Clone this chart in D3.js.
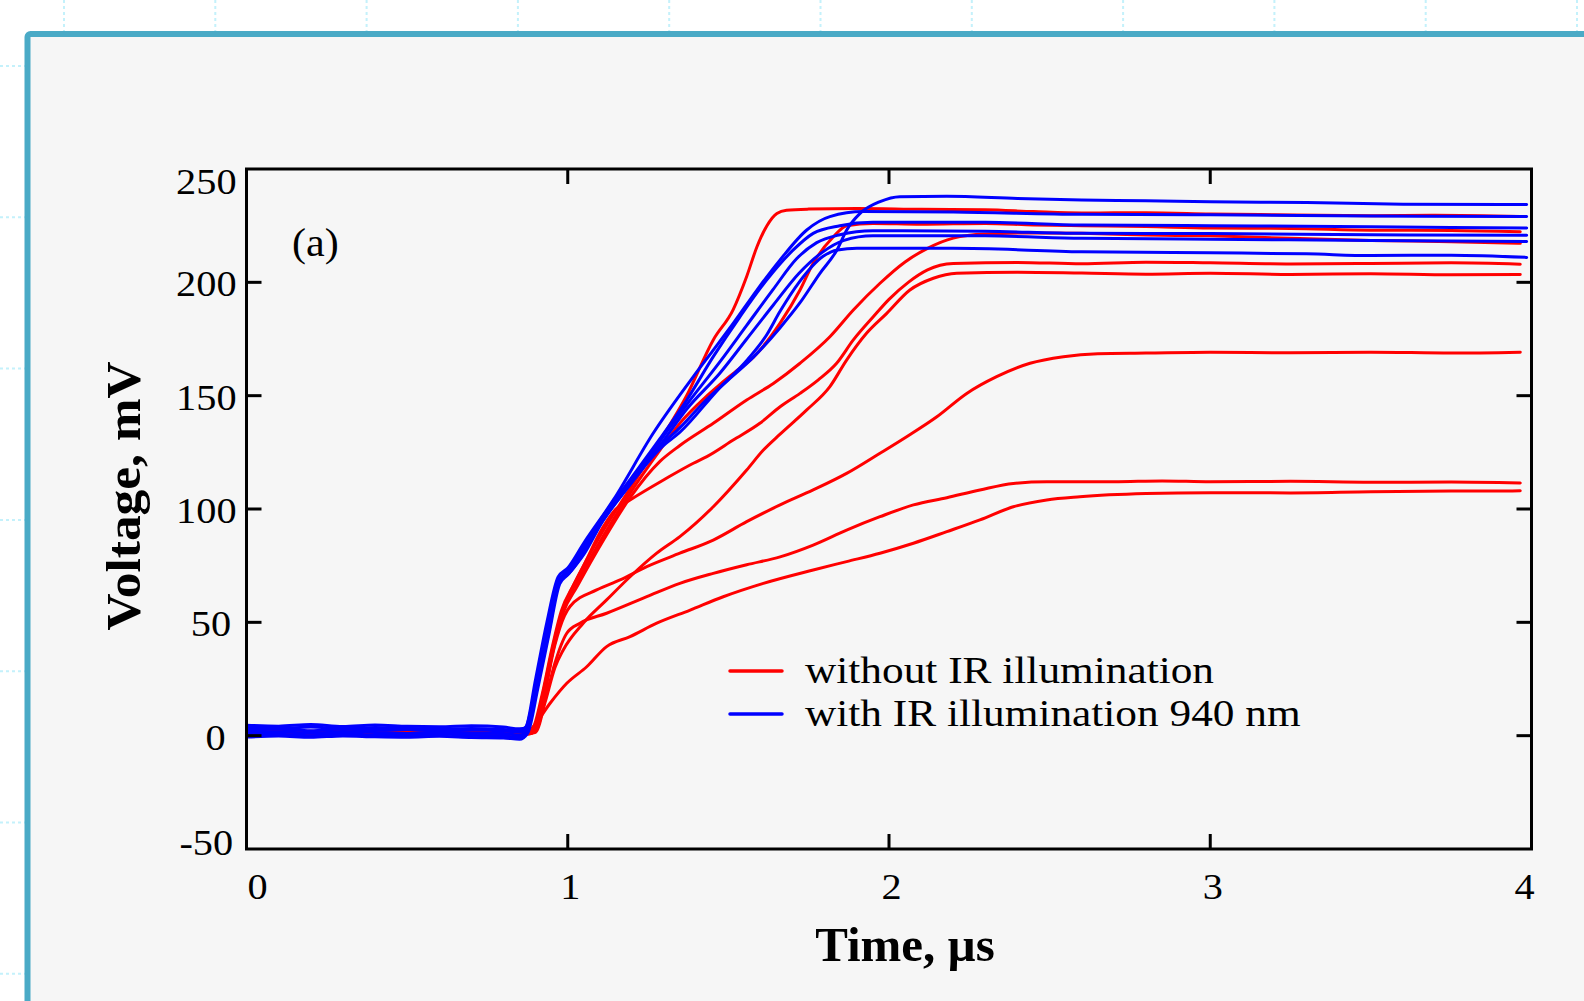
<!DOCTYPE html>
<html><head><meta charset="utf-8">
<script src="https://cdn.jsdelivr.net/npm/d3@7"></script>
<style>body{margin:0;background:#fff;overflow:hidden}svg{display:block}</style>
</head><body>
<svg id="chart" width="1584" height="1001"></svg>
<script>
// ---------- data ----------
const xTicks = [0, 1, 2, 3, 4];
const yTicks = [-50, 0, 50, 100, 150, 200, 250];
const xTitle = "Time, \u00b5s";
const yTitle = "Voltage, mV";
const panelLabel = "(a)";
const seriesNames = ["without IR illumination", "with IR illumination 940 nm"];
const seriesColors = ["#ff0000", "#0000ff"];

// without IR illumination (red)
const red1 = [[0,1.5],[0.2,1.8],[0.4,1.2],[0.6,2.2],[0.8,1.6],[0.86,1],[0.89,3],[0.92,18],[0.95,38],[0.98,55],[1.02,67],[1.1,88],[1.194,109],[1.287,130],[1.37,150],[1.453,174.6],[1.515,188],[1.557,202.6],[1.589,215.7],[1.62,225],[1.651,230.4],[1.681,231.8],[1.75,232.3],[1.9,232.6],[2.1,232.2],[2.3,232],[2.45,231.2],[2.6,230.6],[2.8,230.7],[3.0,230.2],[3.2,229.8],[3.5,229.4],[3.7,229.6],[3.965,229]];
const red2 = [[0,1.0],[0.2,1.4],[0.4,0.9],[0.6,1.6],[0.8,1.2],[0.86,0.5],[0.895,3],[0.925,20],[0.955,40],[0.985,56],[1.03,68],[1.11,88],[1.194,107],[1.287,126],[1.35,138],[1.434,150],[1.474,155],[1.526,161],[1.578,167],[1.661,182],[1.723,196.6],[1.764,208.4],[1.827,220.1],[1.868,225],[1.95,226],[2.1,225.6],[2.3,226],[2.45,225.3],[2.6,225],[2.8,224.6],[3.0,224],[3.25,223.8],[3.5,223],[3.75,222.9],[3.965,222.3]];
const red3 = [[0,2.0],[0.2,1.6],[0.4,2.3],[0.6,1.8],[0.8,2.4],[0.86,1.2],[0.895,2],[0.925,18],[0.955,38],[0.985,54],[1.03,66],[1.11,86],[1.194,105],[1.287,121],[1.349,128],[1.453,137.8],[1.557,148.1],[1.64,155.4],[1.723,164.3],[1.816,176],[1.889,187.8],[1.972,199.6],[2.05,209],[2.12,215],[2.2,219.5],[2.3,221.3],[2.45,221.8],[2.6,221.6],[2.8,220.9],[3.0,220.5],[3.25,219.4],[3.5,218.5],[3.75,217.9],[3.965,217.2]];
const red4 = [[0,0.8],[0.2,1.2],[0.4,0.7],[0.6,1.3],[0.8,0.9],[0.87,0.6],[0.9,2],[0.93,20],[0.96,42],[0.99,57],[1.05,75],[1.11,92],[1.15,100],[1.194,104],[1.298,112.8],[1.391,120.2],[1.433,123.1],[1.515,130.4],[1.598,137.8],[1.661,145.1],[1.723,151],[1.78,157],[1.837,164.3],[1.889,174.6],[1.951,184.8],[2.0,192.5],[2.06,200],[2.12,205.5],[2.2,208.3],[2.4,208.8],[2.6,208.2],[2.8,208.9],[3.0,208.6],[3.25,208.1],[3.5,208.3],[3.75,208.6],[3.965,208]];
const red5 = [[0,1.2],[0.2,0.9],[0.4,1.5],[0.6,1.0],[0.8,1.4],[0.87,0.8],[0.9,1.5],[0.93,15],[0.96,30],[0.986,37.8],[1.048,49.6],[1.121,59.9],[1.194,70.1],[1.277,80.5],[1.349,87.8],[1.453,101],[1.557,117.2],[1.609,126],[1.661,133],[1.744,143.7],[1.816,154],[1.868,165.7],[1.93,177.5],[1.993,186.3],[2.065,196.6],[2.138,201.8],[2.211,204],[2.4,204.5],[2.6,204.1],[2.8,203.6],[3.0,204],[3.25,203.5],[3.5,203.8],[3.75,203.3],[3.965,203.5]];
const red6 = [[0,1.6],[0.2,2.0],[0.4,1.4],[0.6,2.5],[0.8,1.9],[0.87,1.2],[0.9,2],[0.93,20],[0.96,40],[0.99,53],[1.007,57],[1.09,64.3],[1.163,68.7],[1.246,74.6],[1.349,80.5],[1.453,86.3],[1.557,94.4],[1.661,101.8],[1.764,108.4],[1.868,115.7],[1.972,124.6],[2.055,131.9],[2.149,140.7],[2.242,151],[2.335,158.4],[2.439,164.3],[2.543,167.2],[2.65,168.5],[2.8,168.8],[3.0,169.2],[3.25,168.9],[3.5,169.2],[3.75,168.8],[3.965,169.2]];
const red7 = [[0,0.6],[0.2,1.0],[0.4,0.5],[0.6,1.1],[0.8,0.7],[0.87,0.5],[0.9,2],[0.93,16],[0.96,32],[0.997,45.2],[1.038,49.6],[1.121,54],[1.246,61.3],[1.349,67.2],[1.453,71.6],[1.557,75.4],[1.661,78.9],[1.764,84.1],[1.868,90.7],[1.972,96.6],[2.076,101.8],[2.18,105],[2.283,108.4],[2.387,111.3],[2.491,112],[2.7,112],[2.85,112.4],[3.0,112],[3.25,112.2],[3.5,111.8],[3.75,111.9],[3.965,111.5]];
const red8 = [[0,1.3],[0.2,1.7],[0.4,1.1],[0.6,1.9],[0.8,1.5],[0.87,1],[0.893,4],[0.945,14.3],[0.997,23.1],[1.059,30.4],[1.121,39.3],[1.194,43.7],[1.277,49.6],[1.381,55.4],[1.484,61.3],[1.609,67.2],[1.764,73.1],[1.868,76.8],[1.972,80.5],[2.076,84.9],[2.18,90],[2.283,95.2],[2.387,101],[2.491,104],[2.594,105.4],[2.8,106.8],[3.0,107.2],[3.25,107.1],[3.5,107.6],[3.75,107.9],[3.965,108]];

// with IR illumination 940 nm (blue)
const blue1 = [[0,4.6],[0.1,4.2],[0.2,4.9],[0.3,4.0],[0.4,4.7],[0.5,4.1],[0.6,3.9],[0.7,4.4],[0.8,3.8],[0.85,3.0],[0.872,3.5],[0.905,24],[0.94,47],[0.97,66],[1.0,72],[1.05,82],[1.11,96],[1.19,111],[1.29,128],[1.35,136],[1.43,148],[1.5,157],[1.578,167],[1.661,180],[1.723,191],[1.785,204],[1.838,214.3],[1.868,223],[1.91,230.4],[1.972,235.6],[2.034,237.8],[2.18,238],[2.4,237],[2.6,236.3],[2.8,236],[3.0,235.5],[3.3,235.2],[3.6,234.5],[3.985,234.3]];
const blue2 = [[0,2.5],[0.1,2.8],[0.2,2.2],[0.3,2.9],[0.4,2.4],[0.5,2.7],[0.6,2.0],[0.7,2.5],[0.8,2.1],[0.85,1.5],[0.868,3],[0.9,25],[0.935,50],[0.97,70],[1.0,74],[1.05,85],[1.142,104],[1.266,133.4],[1.391,158.4],[1.453,170.1],[1.515,181.9],[1.589,196.6],[1.661,209.9],[1.744,223.1],[1.816,229],[1.92,231.2],[2.2,231],[2.6,230],[3.0,229.8],[3.5,229.3],[3.985,229]];
const blue3 = [[0,1.3],[0.1,1.7],[0.2,1.1],[0.3,1.8],[0.4,1.4],[0.5,1.0],[0.6,1.6],[0.7,1.2],[0.8,1.0],[0.85,0.2],[0.87,2],[0.902,23],[0.938,46],[0.97,68],[1.0,73],[1.11,97],[1.194,113],[1.287,131],[1.37,148],[1.453,167.2],[1.536,184.8],[1.619,201],[1.702,214.3],[1.764,221.6],[1.847,225],[1.95,226.5],[2.3,226.5],[2.6,225.3],[3.0,225],[3.5,224.5],[3.985,224]];
const blue4 = [[0,0.3],[0.1,0.6],[0.2,0.0],[0.3,0.8],[0.4,0.3],[0.5,0.1],[0.6,0.7],[0.7,0.2],[0.8,-0.1],[0.85,-0.8],[0.872,1.5],[0.905,22],[0.94,45],[0.972,67],[1.0,72],[1.11,96],[1.194,112],[1.287,130],[1.37,146],[1.474,165],[1.557,181],[1.64,197],[1.713,210.5],[1.775,217.5],[1.847,221],[1.95,222.8],[2.3,222.5],[2.6,221.6],[3.0,221.5],[3.5,221],[3.985,220.8]];
const blue5 = [[0,3.6],[0.1,3.2],[0.2,3.8],[0.3,3.1],[0.4,3.6],[0.5,3.3],[0.6,2.8],[0.7,3.2],[0.8,2.7],[0.85,2.2],[0.87,4],[0.903,24],[0.937,47],[0.97,68],[1.0,71],[1.11,95],[1.194,111],[1.287,128],[1.37,144],[1.474,160],[1.557,175],[1.64,190],[1.72,204],[1.79,213],[1.86,218.5],[1.95,220.5],[2.3,220.5],[2.6,219.4],[3.0,219],[3.5,218.5],[3.985,218]];
const blue6 = [[0,-0.6],[0.1,-0.2],[0.2,-0.7],[0.3,-0.1],[0.4,-0.5],[0.5,-0.7],[0.6,-0.3],[0.7,-0.8],[0.8,-1.0],[0.85,-1.6],[0.875,1],[0.907,21],[0.942,45],[0.975,67],[1.0,71],[1.05,80],[1.11,95],[1.19,110],[1.29,127],[1.35,134],[1.47,153],[1.56,166],[1.62,177],[1.66,187],[1.72,200],[1.795,211.5],[1.84,214.3],[1.9,215],[2.2,215],[2.6,213.5],[3.0,213],[3.3,212.6],[3.5,211.8],[3.75,212],[3.985,211]];

const redCurves = [red1, red2, red3, red4, red5, red6, red7, red8];
const blueCurves = [blue1, blue2, blue3, blue4, blue5, blue6];

// ---------- layout ----------
const svg = d3.select("#chart");
const W = 1584, H = 1001;
const L = 246.5, R = 1531.5, T = 169, B = 849;
const serif = "'Liberation Serif','Times New Roman',serif";

// background dotted grid
const gridStep = 151.3;
const gx = d3.range(64, W, gridStep), gy = d3.range(66, H, gridStep);
svg.append("g").selectAll("line").data(gx).join("line")
  .attr("x1", d => d).attr("x2", d => d).attr("y1", 0).attr("y2", H)
  .attr("stroke", "#c4f1fb").attr("stroke-width", 2).attr("stroke-dasharray", "3,3");
svg.append("g").selectAll("line").data(gy).join("line")
  .attr("y1", d => d).attr("y2", d => d).attr("x1", 0).attr("x2", W)
  .attr("stroke", "#c4f1fb").attr("stroke-width", 2).attr("stroke-dasharray", "3,3");

// frame
svg.append("rect").attr("x", 27.5).attr("y", 34).attr("width", 1700).attr("height", 1100)
  .attr("rx", 3).attr("fill", "#f6f6f6").attr("stroke", "#4aaac6").attr("stroke-width", 6);

// scales
const x = d3.scaleLinear().domain([0, 4]).range([L, R]);
const y = d3.scaleLinear().domain([-50, 250]).range([B, T]);

svg.append("defs").append("clipPath").attr("id", "clip")
  .append("rect").attr("x", L).attr("y", T).attr("width", R - L).attr("height", B - T);

const line = d3.line().x(d => x(d[0])).y(d => y(d[1])).curve(d3.curveMonotoneX);
const plot = svg.append("g").attr("clip-path", "url(#clip)");
plot.append("g").selectAll("path").data(redCurves).join("path")
  .attr("d", line).attr("fill", "none").attr("stroke", seriesColors[0])
  .attr("stroke-width", 3).attr("stroke-linejoin", "round").attr("stroke-linecap", "round");
plot.append("g").selectAll("path").data(blueCurves).join("path")
  .attr("d", line).attr("fill", "none").attr("stroke", seriesColors[1])
  .attr("stroke-width", 3).attr("stroke-linejoin", "round").attr("stroke-linecap", "round");

// axes (inward ticks on all four sides)
const tickLen = 15;
const axG = svg.append("g");
const innerX = xTicks.filter(d => d > 0 && d < 4);
const innerY = yTicks.filter(d => d > -50 && d < 250);
axG.append("g").selectAll("line").data(innerX).join("line")
  .attr("x1", d => x(d)).attr("x2", d => x(d)).attr("y1", B).attr("y2", B - tickLen);
axG.append("g").selectAll("line").data(innerX).join("line")
  .attr("x1", d => x(d)).attr("x2", d => x(d)).attr("y1", T).attr("y2", T + tickLen);
axG.append("g").selectAll("line").data(innerY).join("line")
  .attr("y1", d => y(d)).attr("y2", d => y(d)).attr("x1", L).attr("x2", L + tickLen);
axG.append("g").selectAll("line").data(innerY).join("line")
  .attr("y1", d => y(d)).attr("y2", d => y(d)).attr("x1", R).attr("x2", R - tickLen);
axG.selectAll("line").attr("stroke", "#000").attr("stroke-width", 3);
svg.append("rect").attr("x", L).attr("y", T).attr("width", R - L).attr("height", B - T)
  .attr("fill", "none").attr("stroke", "#000").attr("stroke-width", 3);

// tick labels (slightly widened serif to mimic the original face)
const tickFS = 36, tickSX = 1.12;
svg.append("g").selectAll("text").data(xTicks).join("text")
  .attr("transform", d => `translate(${Math.max(L + 11, Math.min(R - 7, x(d) + 2.5))},899) scale(${tickSX},1)`)
  .attr("text-anchor", "middle")
  .attr("font-family", serif).attr("font-size", tickFS).attr("fill", "#000")
  .text(d => d);
svg.append("g").selectAll("text").data(yTicks).join("text")
  .attr("transform", d => {
    const cx = 215.5 - (String(d).length - 1) * 4.6;
    const cy = Math.max(T + 13, Math.min(B - 6, y(d) + 2)) + 12;
    return `translate(${cx},${cy}) scale(${tickSX},1)`;
  })
  .attr("text-anchor", "middle")
  .attr("font-family", serif).attr("font-size", tickFS).attr("fill", "#000")
  .text(d => d);

// axis titles
svg.append("text").attr("transform", "translate(905,961) scale(1.02,1)").attr("text-anchor", "middle")
  .attr("font-family", serif).attr("font-weight", "bold").attr("font-size", 48).text(xTitle);
svg.append("text").attr("transform", "translate(140,496) rotate(-90) scale(1.07,1)").attr("text-anchor", "middle")
  .attr("font-family", serif).attr("font-weight", "bold").attr("font-size", 48).text(yTitle);

// panel label
svg.append("text").attr("transform", "translate(292,256) scale(1.08,1)")
  .attr("font-family", serif).attr("font-size", 39).text(panelLabel);

// legend
const lg = svg.append("g");
seriesNames.forEach((name, i) => {
  const yy = 671 + i * 43;
  lg.append("line").attr("x1", 730).attr("x2", 782).attr("y1", yy).attr("y2", yy)
    .attr("stroke", seriesColors[i]).attr("stroke-width", 3.5).attr("stroke-linecap", "round");
  lg.append("text").attr("transform", `translate(805,${yy + 12}) scale(1.14,1)`)
    .attr("font-family", serif).attr("font-size", 38).text(name);
});
</script>
</body></html>
